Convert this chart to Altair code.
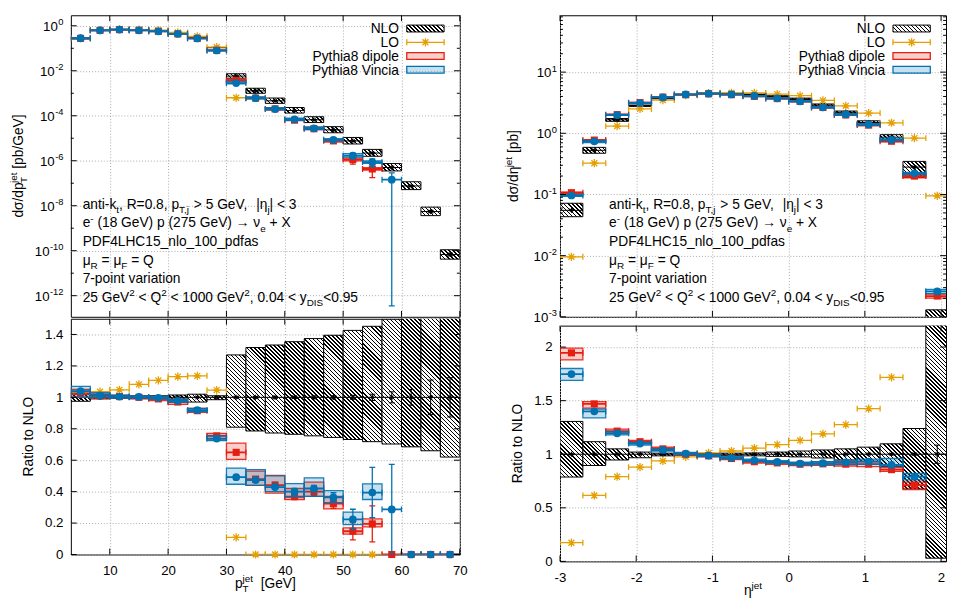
import math
import altair as alt

# ---------------- values ----------------
# jet pT bins [GeV]
pt_lo = [3.333, 6.667, 10.0, 13.333, 16.667, 20.0, 23.333, 26.667, 30.0, 33.333,
         36.667, 40.0, 43.333, 46.667, 50.0, 53.333, 56.667, 60.0, 63.333, 66.667]
pt_hi = [6.667, 10.0, 13.333, 16.667, 20.0, 23.333, 26.667, 30.0, 33.333, 36.667,
         40.0, 43.333, 46.667, 50.0, 53.333, 56.667, 60.0, 63.333, 66.667, 70.0]
nlo_pt = [0.27, 0.62, 0.675, 0.63, 0.572, 0.45, 0.30, 0.108, 5.8e-3, 1.27e-3,
          4.6e-4, 1.72e-4, 6.6e-5, 2.35e-5, 7.6e-6, 2.2e-6, 5.0e-7, 7.6e-8, 5.5e-9, 6.8e-11]
nlo_pt_lo = [0.975, 0.99, 0.995, 0.992, 0.99, 0.988, 0.97, 0.985, 0.81, 0.786,
             0.773, 0.765, 0.755, 0.745, 0.732, 0.718, 0.703, 0.685, 0.66, 0.62]
nlo_pt_hi = [1.03, 1.02, 1.01, 1.01, 1.01, 1.015, 1.02, 1.01, 1.27, 1.317,
             1.333, 1.354, 1.374, 1.395, 1.426, 1.452, 1.497, 1.53, 1.57, 1.62]
nlo_pt_err = [0.001, 0.001, 0.001, 0.001, 0.001, 0.002, 0.002, 0.003, 0.004, 0.005,
              0.006, 0.007, 0.008, 0.01, 0.012, 0.02, 0.035, 0.05, 0.11, 0.125]
lo_pt = [1.03, 1.036, 1.048, 1.083, 1.108, 1.132, 1.137, 1.046, 0.109, 0.0,
         0.0, 0.0, 0.0, 0.0, 0.0, 0.0, None, None, None, None]
vin_pt = [1.04, 1.012, 1.005, 1.003, 0.997, 0.978, 0.919, 0.738, 0.492, 0.474,
          0.429, 0.40, 0.42, 0.363, 0.223, 0.394, 0.287, 0.0, 0.0, 0.0]
vin_pt_lo = [1.0, 1.0, 0.995, 0.995, 0.99, 0.97, 0.91, 0.725, 0.447, 0.44,
             0.40, 0.365, 0.37, 0.33, 0.19, 0.35, 0.287, 0.0, 0.0, 0.0]
vin_pt_hi = [1.07, 1.03, 1.015, 1.01, 1.005, 0.99, 0.93, 0.755, 0.55, 0.54,
             0.50, 0.451, 0.488, 0.406, 0.27, 0.45, 0.287, 0.0, 0.0, 0.0]
vin_pt_err = [0.005, 0.003, 0.003, 0.003, 0.003, 0.004, 0.005, 0.008, 0.01, 0.012,
              0.015, 0.02, 0.02, 0.03, 0.065, 0.16, 0.2869993, 0.0, 0.0, 0.0]
dip_pt = [1.02, 1.01, 1.005, 1.0, 0.99, 0.97, 0.915, 0.755, 0.65, 0.48,
          0.441, 0.369, 0.40, 0.324, 0.148, 0.195, 0.0, 0.0, 0.0, 0.0]
dip_pt_lo = [1.0, 0.995, 0.995, 0.99, 0.98, 0.955, 0.905, 0.73, 0.605, 0.44,
             0.39, 0.35, 0.37, 0.29, 0.13, 0.176, 0.0, 0.0, 0.0, 0.0]
dip_pt_hi = [1.05, 1.02, 1.01, 1.008, 1.0, 0.985, 0.93, 0.77, 0.708, 0.53,
             0.503, 0.42, 0.46, 0.37, 0.17, 0.226, 0.0, 0.0, 0.0, 0.0]
dip_pt_err = [0.005, 0.003, 0.003, 0.003, 0.003, 0.004, 0.005, 0.01, 0.015, 0.015,
              0.02, 0.02, 0.025, 0.03, 0.055, 0.115, 0.0, 0.0, 0.0, 0.0]

# jet pseudorapidity bins
eta_lo = [-3.0, -2.7, -2.4, -2.1, -1.8, -1.5, -1.2, -0.9, -0.6, -0.3,
          0.0, 0.3, 0.6, 0.9, 1.2, 1.5, 1.8]
eta_hi = [-2.7, -2.4, -2.1, -1.8, -1.5, -1.2, -0.9, -0.6, -0.3, 0.0,
          0.3, 0.6, 0.9, 1.2, 1.5, 1.8, 2.1]
nlo_eta = [0.055, 0.527, 1.66, 2.84, 3.72, 4.29, 4.5, 4.46, 4.32, 4.02,
           3.65, 2.9, 2.2, 1.5, 0.865, 0.28, 5.2e-4]
nlo_eta_lo = [0.787, 0.895, 0.946, 0.967, 0.985, 0.99, 0.992, 0.99, 0.985, 0.98,
              0.975, 0.965, 0.946, 0.93, 0.886, 0.676, 0.03]
nlo_eta_hi = [1.306, 1.117, 1.05, 1.02, 1.01, 1.005, 1.005, 1.01, 1.012, 1.02,
              1.03, 1.04, 1.05, 1.066, 1.097, 1.24, 2.5]
nlo_eta_err = [0.004, 0.003, 0.003, 0.003, 0.003, 0.003, 0.003, 0.003, 0.003, 0.003,
               0.003, 0.003, 0.003, 0.004, 0.005, 0.008, 0.085]
lo_eta = [0.174, 0.615, 0.79, 0.88, 0.937, 0.976, 1.012, 1.03, 1.057, 1.09,
          1.129, 1.19, 1.276, 1.426, 1.718, 2.98, 183.0]
vin_eta = [1.748, 1.40, 1.195, 1.10, 1.04, 1.006, 0.988, 0.967, 0.943, 0.928,
           0.913, 0.916, 0.925, 0.931, 0.90, 0.79, 5.0]
vin_eta_lo = [1.69, 1.34, 1.18, 1.085, 1.03, 0.996, 0.978, 0.957, 0.93, 0.916,
              0.90, 0.90, 0.905, 0.905, 0.89, 0.76, 4.6]
vin_eta_hi = [1.80, 1.42, 1.21, 1.11, 1.05, 1.016, 0.998, 0.977, 0.955, 0.94,
              0.925, 0.93, 0.945, 0.955, 0.96, 0.82, 5.4]
vin_eta_err = [0.01, 0.006, 0.005, 0.004, 0.004, 0.004, 0.004, 0.004, 0.004, 0.004,
               0.004, 0.005, 0.005, 0.006, 0.008, 0.01, 0.1]
dip_eta = [1.946, 1.47, 1.216, 1.117, 1.05, 1.0, 0.985, 0.96, 0.93, 0.919,
           0.907, 0.91, 0.907, 0.907, 0.856, 0.712, 4.2]
dip_eta_lo = [1.88, 1.43, 1.20, 1.10, 1.035, 0.99, 0.975, 0.95, 0.918, 0.905,
              0.893, 0.895, 0.89, 0.885, 0.84, 0.67, 3.9]
dip_eta_hi = [1.99, 1.49, 1.235, 1.13, 1.065, 1.012, 0.998, 0.972, 0.942, 0.932,
              0.92, 0.93, 0.93, 0.935, 0.875, 0.74, 4.5]
dip_eta_err = [0.01, 0.006, 0.005, 0.004, 0.004, 0.004, 0.004, 0.004, 0.004, 0.004,
               0.004, 0.005, 0.005, 0.006, 0.008, 0.01, 0.1]

# axis ticks
pt_ticks = [10, 20, 30, 40, 50, 60, 70]
eta_ticks = [-3, -2, -1, 0, 1, 2]
pt_abs_major = [1.0, 1e-2, 1e-4, 1e-6, 1e-8, 1e-10, 1e-12]
pt_abs_minor = [1e-1, 1e-3, 1e-5, 1e-7, 1e-9, 1e-11]
eta_abs_major = [10.0, 1.0, 0.1, 0.01, 0.001]
eta_abs_minor = [k * 10.0 ** e for e in range(-3, 2) for k in range(2, 10) if k * 10.0 ** e <= 85]
pt_rat_ticks = [0, 0.2, 0.4, 0.6, 0.8, 1.0, 1.2, 1.4]
eta_rat_ticks = [0, 0.5, 1.0, 1.5, 2.0]

legend_labels = ["NLO", "LO", "Pythia8 dipole", "Pythia8 Vincia"]
annot_lines = [
    [("n", "anti-k"), ("b", "t"), ("n", ", R=0.8, p"), ("b", "T,j"), ("n", " > 5 GeV,  |η"), ("b", "j"), ("n", "| < 3")],
    [("n", "e"), ("p", "-"), ("n", " (18 GeV) p (275 GeV) → ν"), ("b", "e"), ("n", " + X")],
    [("n", "PDF4LHC15_nlo_100_pdfas")],
    [("n", "μ"), ("b", "R"), ("n", " = μ"), ("b", "F"), ("n", " = Q")],
    [("n", "7-point variation")],
    [("n", "25 GeV"), ("p", "2"), ("n", " < Q"), ("p", "2"), ("n", " < 1000 GeV"), ("p", "2"),
     ("n", ", 0.04 < y"), ("b", "DIS"), ("n", "<0.95")],
]

# ---------------- style / geometry ----------------
FONT = "Liberation Sans"
FS = 14
LFS = 13.5
BLUE = "#0072b2"
RED = "#e51e10"
ORANGE = "#e69f00"
GRID = "#a8a8a8"
STAR = "M-1,0L1,0M0,-1L0,1M-0.72,-0.72L0.72,0.72M-0.72,0.72L0.72,-0.72"

WL, WR, HT, HB = 396, 393, 307, 240
PT_X = [3.333, 70.0]
ETA_X = [-3.0, 2.065]
PT_ABS = [1.15e-13, 2.94]
ETA_ABS = [1e-3, 85.0]
PT_RAT = [0.0, 1.5]
ETA_RAT = [0.0, 2.2]

AW = {" ": 278, "(": 333, ")": 333, "+": 584, ",": 278, "-": 333, ".": 278, "/": 278,
      ":": 278, "<": 584, "=": 584, ">": 584, "[": 278, "]": 278, "_": 556, "|": 260,
      "A": 667, "B": 667, "C": 722, "D": 722, "E": 667, "F": 611, "G": 778, "H": 722,
      "I": 278, "J": 500, "K": 667, "L": 556, "M": 833, "N": 722, "O": 778, "P": 667,
      "Q": 778, "R": 722, "S": 667, "T": 611, "U": 722, "V": 667, "W": 944, "X": 667,
      "Y": 667, "Z": 611, "a": 556, "b": 556, "c": 500, "d": 556, "e": 556, "f": 278,
      "g": 556, "h": 556, "i": 222, "j": 222, "k": 500, "l": 222, "m": 833, "n": 556,
      "o": 556, "p": 556, "q": 556, "r": 333, "s": 500, "t": 278, "u": 556, "v": 500,
      "w": 722, "x": 500, "y": 500, "z": 500, "σ": 571, "η": 556, "μ": 576, "ν": 500,
      "→": 1000}


def tw(s, fs):
    return sum(AW.get(ch, 556) for ch in s) * fs / 1000.0


def rich(segs, x0, y0, fs=FS, rot=False, center=False):
    sm = fs * 0.72

    def items(seg):
        k = seg[0]
        if k == "n":
            return [(seg[1], fs, 0.0)]
        if k == "b":
            return [(seg[1], sm, 0.3 * fs)]
        if k == "p":
            return [(seg[1], sm, -0.42 * fs)]
        return [(seg[1], sm, 0.3 * fs), (seg[2], sm, -0.42 * fs)]

    total = sum(max(tw(t, s) for t, s, o in items(sg)) for sg in segs)
    pos = -total / 2.0 if center else 0.0
    out = []

    def emit(tok, p, s, off):
        if rot:
            out.append({"t": tok, "px": x0 + off, "py": y0 - p, "fs": s})
        else:
            out.append({"t": tok, "px": x0 + p, "py": y0 + off, "fs": s})

    for sg in segs:
        adv = 0.0
        for t, s, off in items(sg):
            p = pos
            tok, start = "", p
            for ch in t:
                if ch == " ":
                    if tok:
                        emit(tok, start, s, off)
                        tok = ""
                    p += tw(" ", s)
                else:
                    if not tok:
                        start = p
                    tok += ch
                    p += tw(ch, s)
            if tok:
                emit(tok, start, s, off)
            adv = max(adv, p - pos)
        pos += adv
    return out


def hatch(w, h, period=2.9, frac=0.38, col="#000000"):
    w = max(float(w), 0.5)
    h = max(float(h), 0.5)
    k = (w + h) / (w * w + h * h)
    n = max(1, int(round((w + h) / (math.sqrt(2) * period))))
    stops = []
    for i in range(n):
        a = round(i / n, 5)
        b = round((i + frac) / n, 5)
        c = round((i + 1) / n, 5)
        stops += [{"offset": a, "color": col}, {"offset": b, "color": col},
                  {"offset": b, "color": "#ffffff"}, {"offset": c, "color": "#ffffff"}]
    return {"gradient": "linear", "x1": 0, "y1": 1, "x2": round(k * w, 6),
            "y2": round(1 - k * h, 6), "stops": stops}


def make_recs(lo, hi, nlo, nlo_l, nlo_h, nlo_e, lor, vin, vin_l, vin_h, vin_e,
              dip, dip_l, dip_h, dip_e, xdom, W, adom, rdom):
    la = math.log10(adom[1]) - math.log10(adom[0])
    recs = []
    for i in range(len(lo)):
        w = (hi[i] - lo[i]) * W / (xdom[1] - xdom[0])
        ha = (math.log10(nlo_h[i]) - math.log10(nlo_l[i])) * HT / la
        hr = (nlo_h[i] - nlo_l[i]) * HB / (rdom[1] - rdom[0])
        recs.append({"lo": lo[i], "hi": hi[i], "nlo": nlo[i], "nlo_lo": nlo_l[i],
                     "nlo_hi": nlo_h[i], "nlo_e": nlo_e[i], "lo_r": lor[i],
                     "vin_r": vin[i], "vin_lo": vin_l[i], "vin_hi": vin_h[i], "vin_e": vin_e[i],
                     "dip_r": dip[i], "dip_lo": dip_l[i], "dip_hi": dip_h[i], "dip_e": dip_e[i],
                     "ga": hatch(w, ha), "gr": hatch(w, hr)})
    return recs


def text_layer(recs, angle=0, align="left"):
    mk = dict(align=align, baseline="alphabetic", font=FONT, color="black")
    if angle:
        mk["angle"] = angle
    return alt.Chart(alt.Data(values=recs)).mark_text(**mk).encode(
        x=alt.X("px:Q", scale=None, axis=None),
        y=alt.Y("py:Q", scale=None, axis=None),
        text=alt.Text("t:N"),
        size=alt.Size("fs:Q", scale=None))


def legend_layers(W):
    rows = [13.5, 27.5, 41.5, 55.5]
    tx = W - 62
    s0, s1 = W - 54, W - 16
    labs = [{"t": t, "px": tx, "py": y + 5, "fs": FS} for t, y in zip(legend_labels, rows)]
    L = [text_layer(labs, align="right")]
    c = alt.Chart(alt.Data(values=[{"k": 0}]))
    L.append(c.mark_rect(fill=hatch(s1 - s0, 7), stroke="black", strokeWidth=1).encode(
        x=alt.value(s0), x2=alt.value(s1), y=alt.value(rows[0] - 3.5), y2=alt.value(rows[0] + 3.5)))
    L.append(c.mark_rule(color=ORANGE, strokeWidth=1.3).encode(
        x=alt.value(s0), x2=alt.value(s1), y=alt.value(rows[1])))
    for xx in (s0, s1):
        L.append(c.mark_rule(color=ORANGE, strokeWidth=1.3).encode(
            x=alt.value(xx), y=alt.value(rows[1] - 3), y2=alt.value(rows[1] + 3)))
    L.append(c.mark_point(shape=STAR, filled=False, size=70, strokeWidth=1.3, color=ORANGE,
                          opacity=1).encode(x=alt.value((s0 + s1) / 2), y=alt.value(rows[1])))
    for col, y in ((RED, rows[2]), (BLUE, rows[3])):
        L.append(c.mark_rect(fill=col, fillOpacity=0.22, stroke=col, strokeWidth=1.3).encode(
            x=alt.value(s0), x2=alt.value(s1), y=alt.value(y - 3.5), y2=alt.value(y + 3.5)))
    return L


def annot_layer(x0):
    recs = []
    for i, segs in enumerate(annot_lines):
        recs += rich(segs, x0, HT - 110 + 19 * i)
    return text_layer(recs)


def panel(recs, mode, xdom, ydom, W, H, ylog, xt, ymaj, ymin_t, xlabels, extra, exp_right=-7.5):
    m = "datum.nlo" if mode == "abs" else "1"
    g = "ga" if mode == "abs" else "gr"
    xs = alt.Scale(domain=xdom, nice=False, zero=False)
    if ylog:
        ys = alt.Scale(type="log", domain=ydom, nice=False)
    else:
        ys = alt.Scale(domain=ydom, nice=False, zero=False)
    xax = alt.Axis(values=xt, grid=True, gridColor=GRID, gridDash=[1, 2], ticks=False, domain=False,
                   labels=xlabels, labelFont=FONT, labelFontSize=LFS, labelColor="black",
                   labelPadding=9, labelExpr="'' + datum.value", labelFlush=False, labelOverlap=False)
    yax = alt.Axis(values=ymaj, grid=True, gridColor=GRID, gridDash=[1, 2], ticks=False, domain=False,
                   labels=not ylog, labelFont=FONT, labelFontSize=LFS, labelColor="black",
                   labelPadding=8, format="~g", labelFlush=False, labelOverlap=False)

    def X(f):
        return alt.X(f, type="quantitative", scale=xs, axis=xax, title=None)

    def Y(f):
        return alt.Y(f, type="quantitative", scale=ys, axis=yax, title=None)

    inrange = f"datum.v >= {ydom[0]} && datum.v <= {ydom[1]}"
    base = alt.Chart(alt.Data(values=recs))
    L = []
    # NLO scale-variation band (hatched), central value, statistical error
    nb = base.transform_calculate(b1=f"datum.nlo_lo*{m}", b2=f"datum.nlo_hi*{m}",
                                  c="(datum.lo+datum.hi)/2", v=f"{m}",
                                  e1=f"(1-datum.nlo_e)*{m}", e2=f"(1+datum.nlo_e)*{m}")
    L.append(nb.mark_rect(stroke="black", strokeWidth=1, clip=True).encode(
        x=X("lo"), x2=alt.X2("hi"), y=Y("b1"), y2=alt.Y2("b2"),
        fill=alt.Fill(g, type="nominal", scale=None)))
    L.append(nb.mark_rule(color="black", strokeWidth=1, clip=True).encode(
        x=X("lo"), x2=alt.X2("hi"), y=Y("v")))
    L.append(nb.mark_rule(color="black", strokeWidth=1, clip=True).encode(
        x=X("c"), y=Y("e1"), y2=alt.Y2("e2")))
    for f in ("e1", "e2"):
        L.append(nb.mark_rule(color="black", strokeWidth=1, xOffset=-3, x2Offset=3, clip=True).encode(
            x=X("c"), x2=alt.X2("c"), y=Y(f)))
    L.append(nb.mark_point(shape=STAR, filled=False, size=28, strokeWidth=1, color="black",
                           opacity=1, clip=True).encode(x=X("c"), y=Y("v")))
    # LO
    lb = base.transform_filter("isValid(datum.lo_r)").transform_calculate(
        v=f"datum.lo_r*{m}", c="(datum.lo+datum.hi)/2")
    if mode == "abs":
        lb = lb.transform_filter("datum.v > 0")
    L.append(lb.mark_rule(color=ORANGE, strokeWidth=1.3, clip=True).encode(
        x=X("lo"), x2=alt.X2("hi"), y=Y("v")))
    for f in ("lo", "hi"):
        L.append(lb.mark_rule(color=ORANGE, strokeWidth=1.3, yOffset=-3, y2Offset=3, clip=True).encode(
            x=X(f), y=Y("v"), y2=alt.Y2("v")))
    L.append(lb.transform_filter(inrange).mark_point(
        shape=STAR, filled=False, size=70, strokeWidth=1.3, color=ORANGE, opacity=1).encode(
        x=X("c"), y=Y("v")))
    # Pythia8 dipole / Vincia
    for k, col, shape, size in (("dip", RED, "square", 52), ("vin", BLUE, "circle", 62)):
        bb = base.transform_filter(f"datum.{k}_hi > datum.{k}_lo").transform_calculate(
            b1=f"datum.{k}_lo*{m}", b2=f"datum.{k}_hi*{m}")
        L.append(bb.mark_rect(fill=col, fillOpacity=0.22, stroke=col, strokeWidth=1.3,
                              strokeOpacity=0.9, clip=True).encode(
            x=X("lo"), x2=alt.X2("hi"), y=Y("b1"), y2=alt.Y2("b2")))
        vb = base.transform_calculate(v=f"datum.{k}_r*{m}", c="(datum.lo+datum.hi)/2")
        if mode == "abs":
            vb = vb.transform_filter("datum.v > 0")
        L.append(vb.mark_rule(color=col, strokeWidth=1.8, clip=True).encode(
            x=X("lo"), x2=alt.X2("hi"), y=Y("v")))
        for f in ("lo", "hi"):
            L.append(vb.mark_rule(color=col, strokeWidth=1.3, yOffset=-3, y2Offset=3, clip=True).encode(
                x=X(f), y=Y("v"), y2=alt.Y2("v")))
        eb = vb.transform_filter(f"datum.{k}_e > 0").transform_calculate(
            e1=f"(datum.{k}_r-datum.{k}_e)*{m}", e2=f"(datum.{k}_r+datum.{k}_e)*{m}")
        if mode == "abs":
            eb = eb.transform_filter("datum.e1 > 0")
        L.append(eb.mark_rule(color=col, strokeWidth=1.3, clip=True).encode(
            x=X("c"), y=Y("e1"), y2=alt.Y2("e2")))
        for f in ("e1", "e2"):
            L.append(eb.mark_rule(color=col, strokeWidth=1.3, xOffset=-3, x2Offset=3, clip=True).encode(
                x=X("c"), x2=alt.X2("c"), y=Y(f)))
        L.append(vb.transform_filter(inrange).mark_point(
            shape=shape, filled=True, size=size, color=col, opacity=1).encode(x=X("c"), y=Y("v")))
    # inward ticks (gnuplot style, mirrored)
    xd = alt.Data(values=[{"t": v} for v in xt])
    for y1, y2 in ((H, H - 6), (0, 6)):
        L.append(alt.Chart(xd).mark_rule(color="black", strokeWidth=1).encode(
            x=X("t"), y=alt.value(y1), y2=alt.value(y2)))
    for vals, ln in ((ymaj, 6), (ymin_t, 3)):
        if not vals:
            continue
        yd = alt.Data(values=[{"t": v} for v in vals])
        for x1, x2 in ((0, ln), (W, W - ln)):
            L.append(alt.Chart(yd).mark_rule(color="black", strokeWidth=1).encode(
                y=Y("t"), x=alt.value(x1), x2=alt.value(x2)))
    # log-axis labels 10^n as real text with raised exponent
    if ylog:
        lrec = []
        for v in ymaj:
            es = str(int(round(math.log10(v))))
            lrec.append({"v": v, "e": es, "bx": exp_right - tw(es, 9.5) - 0.5})
        ld = alt.Data(values=lrec)
        L.append(alt.Chart(ld).mark_text(align="right", baseline="alphabetic", font=FONT,
                                         fontSize=LFS, color="black", dy=5, text="10").encode(
            x=alt.X("bx:Q", scale=None, axis=None), y=Y("v")))
        L.append(alt.Chart(ld).mark_text(align="right", baseline="alphabetic", font=FONT,
                                         fontSize=9.5, color="black", dy=-0.5).encode(
            x=alt.value(exp_right), y=Y("v"), text=alt.Text("e:N")))
    L += extra
    return alt.layer(*L).properties(width=W, height=H)


rec_pt = make_recs(pt_lo, pt_hi, nlo_pt, nlo_pt_lo, nlo_pt_hi, nlo_pt_err, lo_pt,
                   vin_pt, vin_pt_lo, vin_pt_hi, vin_pt_err, dip_pt, dip_pt_lo, dip_pt_hi, dip_pt_err,
                   PT_X, WL, PT_ABS, PT_RAT)
rec_eta = make_recs(eta_lo, eta_hi, nlo_eta, nlo_eta_lo, nlo_eta_hi, nlo_eta_err, lo_eta,
                    vin_eta, vin_eta_lo, vin_eta_hi, vin_eta_err, dip_eta, dip_eta_lo, dip_eta_hi, dip_eta_err,
                    ETA_X, WR, ETA_ABS, ETA_RAT)

tl_extra = legend_layers(WL) + [
    annot_layer(12),
    text_layer(rich([("n", "dσ/dp"), ("bp", "T", "jet"), ("n", " [pb/GeV]")], -49, HT / 2,
                    rot=True, center=True), angle=270)]
tr_extra = legend_layers(WR) + [
    annot_layer(50),
    text_layer(rich([("n", "dσ/dη"), ("p", "jet"), ("n", " [pb]")], -42.7, HT / 2,
                    rot=True, center=True), angle=270)]
bl_extra = [
    text_layer(rich([("n", "Ratio to NLO")], -38.7, HB / 2, rot=True, center=True), angle=270),
    text_layer(rich([("n", "p"), ("bp", "T", "jet"), ("n", "  [GeV]")], WL / 2, HB + 34, center=True))]
br_extra = [
    text_layer(rich([("n", "Ratio to NLO")], -38.7, HB / 2, rot=True, center=True), angle=270),
    text_layer(rich([("n", "η"), ("p", "jet")], WR / 2, HB + 34, center=True))]

TL = panel(rec_pt, "abs", PT_X, PT_ABS, WL, HT, True, pt_ticks, pt_abs_major, pt_abs_minor, False, tl_extra)
BL = panel(rec_pt, "ratio", PT_X, PT_RAT, WL, HB, False, pt_ticks, pt_rat_ticks, [], True, bl_extra)
TR = panel(rec_eta, "abs", ETA_X, ETA_ABS, WR, HT, True, eta_ticks, eta_abs_major, eta_abs_minor, False,
           tr_extra, exp_right=-3)
BR = panel(rec_eta, "ratio", ETA_X, ETA_RAT, WR, HB, False, eta_ticks, eta_rat_ticks, [], True, br_extra)

chart = alt.hconcat(
    alt.vconcat(TL, BL, spacing=0),
    alt.vconcat(TR, BR, spacing=0),
    spacing=35,
).properties(
    padding={"left": 0, "top": 1, "right": 0, "bottom": 0},
    background="white",
).configure_view(stroke="black", strokeWidth=1)

chart.save("out.html", embed_options={"renderer": "svg", "actions": False})
